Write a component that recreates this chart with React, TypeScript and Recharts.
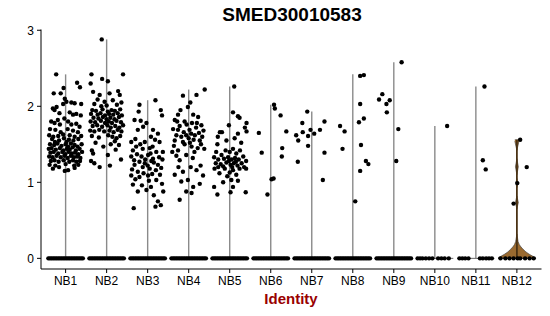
import {
  ComposedChart,
  Scatter,
  Area,
  XAxis,
  YAxis,
  ReferenceLine,
} from "recharts";

const GROUPS = ["NB1", "NB2", "NB3", "NB4", "NB5", "NB6", "NB7", "NB8", "NB9", "NB10", "NB11", "NB12"];
const Y_TICKS = [0, 1, 2, 3];

// top of each (collapsed) violin = max expression per identity
const VIOLIN_MAX = [2.42, 2.88, 2.08, 2.22, 2.26, 2.02, 1.93, 2.42, 2.58, 1.74, 2.26, 1.56];

// jittered non-zero cells: [x offset from group centre, expression]
const NB1_POINTS = [
  [-0.23, 2.42], [-0.05, 2.24], [0.28, 2.31], [0.35, 2.25], [-0.12, 2.17], [-0.29, 2.17],
  [-0.02, 2.1], [0.02, 2.06], [0.14, 2.05], [0.22, 2.04], [0.38, 2.03], [-0.06, 2.03], [-0.22, 1.99], [-0.31, 1.97],
  [-0.27, 1.95], [-0.15, 1.91], [0.1, 1.92], [0.18, 1.89], [0.37, 1.88], [0.26, 1.9],
  [-0.35, 1.8], [-0.27, 1.78], [-0.19, 1.82], [-0.14, 1.76], [-0.03, 1.84], [0.06, 1.8], [0.14, 1.76], [0.26, 1.77],
  [0.34, 1.73], [-0.38, 1.7], [-0.25, 1.69], [-0.12, 1.66], [0.05, 1.7], [0.18, 1.68], [0.3, 1.66], [-0.4, 1.62],
  [-0.3, 1.6], [-0.18, 1.61], [-0.06, 1.63], [0.1, 1.62], [0.22, 1.6], [0.38, 1.61],
  [-0.33, 1.57], [-0.16, 1.55], [-0.04, 1.58], [0.08, 1.56], [0.19, 1.55], [0.31, 1.57], [0.02, 1.53], [-0.26, 1.53],
  [-0.38, 1.5], [-0.28, 1.49], [-0.2, 1.51], [-0.1, 1.48], [0.0, 1.5], [0.06, 1.47], [0.13, 1.51], [0.22, 1.49], [0.29, 1.47], [0.39, 1.5],
  [-0.41, 1.44], [-0.34, 1.45], [-0.24, 1.43], [-0.14, 1.45], [-0.06, 1.42], [0.03, 1.44], [0.1, 1.43], [0.17, 1.46], [0.25, 1.42], [0.34, 1.44],
  [-0.37, 1.39], [-0.29, 1.4], [-0.18, 1.38], [-0.08, 1.4], [-0.01, 1.37], [0.07, 1.4], [0.15, 1.38], [0.23, 1.39], [0.31, 1.37], [0.4, 1.4],
  [-0.4, 1.34], [-0.32, 1.33], [-0.22, 1.35], [-0.12, 1.33], [-0.03, 1.35], [0.05, 1.32], [0.13, 1.35], [0.2, 1.33], [0.28, 1.34], [0.36, 1.32],
  [-0.36, 1.28], [-0.27, 1.29], [-0.17, 1.27], [-0.05, 1.29], [0.09, 1.27], [0.18, 1.29], [0.26, 1.27], [0.35, 1.28],
  [-0.39, 1.23], [-0.25, 1.22], [0.0, 1.24], [0.21, 1.22], [0.31, 1.23],
  [-0.31, 1.18], [-0.02, 1.15], [0.06, 1.16], [0.22, 1.19], [-0.16, 1.2],
];

const NB2_POINTS = [
  [-0.12, 2.88], [-0.37, 2.42], [-0.11, 2.36], [0.4, 2.42], [0.03, 2.33], [-0.39, 2.3], [-0.33, 2.19], [0.28, 2.2],
  [0.32, 2.15], [-0.17, 2.15], [0.07, 2.17],
  [-0.22, 2.09], [-0.05, 2.06], [0.15, 2.08], [-0.3, 2.03], [0.0, 2.01], [0.25, 2.02], [0.36, 2.05], [-0.13, 2.0],
  [-0.35, 1.95], [-0.26, 1.94], [-0.1, 1.96], [0.03, 1.93], [0.12, 1.95], [0.2, 1.94], [0.33, 1.96],
  [-0.38, 1.9], [-0.22, 1.89], [-0.15, 1.91], [-0.04, 1.88], [0.06, 1.9], [0.16, 1.89], [0.27, 1.91], [0.37, 1.88],
  [-0.32, 1.85], [-0.2, 1.84], [-0.09, 1.86], [0.0, 1.83], [0.09, 1.85], [0.19, 1.83], [0.3, 1.86],
  [-0.39, 1.8], [-0.28, 1.79], [-0.14, 1.81], [-0.04, 1.78], [0.05, 1.8], [0.13, 1.78], [0.24, 1.81], [0.35, 1.79],
  [-0.34, 1.74], [-0.23, 1.75], [-0.11, 1.73], [0.02, 1.75], [0.1, 1.72], [0.21, 1.74], [0.31, 1.72], [0.4, 1.75],
  [-0.4, 1.68], [-0.3, 1.67], [-0.18, 1.69], [-0.06, 1.67], [0.07, 1.68], [0.17, 1.66], [0.27, 1.69], [0.36, 1.67],
  [-0.36, 1.61], [-0.19, 1.59], [0.04, 1.62], [0.14, 1.6], [0.24, 1.58], [0.33, 1.61],
  [-0.27, 1.52], [0.1, 1.5], [0.2, 1.54], [0.3, 1.49], [-0.08, 1.47],
  [-0.36, 1.42], [0.22, 1.43], [-0.38, 1.28], [0.03, 1.36], [-0.3, 1.25], [-0.17, 1.2], [0.08, 1.22], [0.35, 1.3], [-0.33, 1.38],
];

const NB3_POINTS = [
  [0.19, 2.08], [-0.2, 2.02], [-0.22, 1.93], [0.32, 1.95], [0.35, 1.88], [-0.32, 1.82], [-0.17, 1.81], [-0.11, 1.73],
  [-0.24, 1.69], [0.13, 1.69], [0.25, 1.64], [-0.03, 1.78], [0.08, 1.6],
  [-0.4, 1.53], [-0.07, 1.53], [0.29, 1.53], [-0.3, 1.57], [0.18, 1.56], [-0.18, 1.5],
  [-0.28, 1.47], [0.05, 1.45], [0.21, 1.4], [0.37, 1.4], [-0.12, 1.44], [-0.36, 1.42], [0.12, 1.47],
  [-0.4, 1.34], [-0.15, 1.34], [0.01, 1.36], [0.13, 1.31], [-0.26, 1.37], [0.28, 1.33], [-0.06, 1.3], [0.07, 1.38], [0.36, 1.3], [-0.33, 1.29],
  [-0.32, 1.23], [-0.07, 1.25], [0.05, 1.18], [0.25, 1.23], [-0.2, 1.27], [0.15, 1.26], [0.0, 1.22], [-0.12, 1.2],
  [0.33, 1.19], [-0.38, 1.17], [0.09, 1.28], [0.2, 1.16], [-0.24, 1.14],
  [-0.4, 1.09], [-0.2, 1.07], [0.01, 1.09], [0.21, 1.03], [-0.1, 1.12], [0.11, 1.11], [-0.3, 1.04], [0.3, 1.1], [0.03, 1.02],
  [0.35, 0.98], [-0.24, 0.88], [-0.03, 0.9], [0.15, 0.83], [0.25, 0.75], [-0.34, 0.66], [0.32, 0.7], [0.19, 0.68],
  [-0.14, 0.96], [0.08, 0.94], [-0.36, 0.97], [0.38, 0.88],
];

const NB4_POINTS = [
  [0.39, 2.22], [-0.14, 2.14], [0.19, 2.15], [-0.26, 1.89], [-0.02, 1.99], [0.11, 1.89], [-0.34, 1.82], [-0.1, 1.8],
  [0.23, 1.86], [0.31, 1.75], [0.04, 2.05], [-0.2, 1.95],
  [-0.26, 1.69], [0.02, 1.69], [0.15, 1.62], [-0.34, 1.55], [-0.14, 1.53], [0.27, 1.55], [-0.05, 1.76], [0.08, 1.78],
  [-0.22, 1.74], [0.18, 1.72], [0.36, 1.68], [-0.38, 1.7], [-0.12, 1.66], [0.06, 1.64], [0.25, 1.65], [-0.3, 1.62],
  [0.0, 1.58], [0.12, 1.56], [-0.18, 1.6], [0.33, 1.6], [-0.06, 1.62], [0.2, 1.78], [-0.28, 1.8],
  [-0.26, 1.42], [0.07, 1.47], [-0.06, 1.36], [-0.22, 1.29], [0.22, 1.45], [-0.36, 1.48], [0.14, 1.4], [0.3, 1.5],
  [-0.1, 1.5], [0.03, 1.52], [-0.4, 1.4], [0.38, 1.44], [0.1, 1.32], [-0.3, 1.35],
  [-0.14, 1.14], [0.19, 1.16], [0.35, 1.09], [-0.02, 1.03], [0.11, 0.94], [-0.18, 1.01], [0.27, 0.98], [0.07, 0.86],
  [-0.22, 0.77], [-0.06, 0.88], [-0.34, 1.1], [0.29, 1.22], [-0.25, 1.2], [0.05, 1.2],
];

const NB5_POINTS = [
  [0.11, 2.26], [0.08, 1.92], [0.2, 1.87], [0.24, 1.85], [-0.19, 1.66], [0.2, 1.64], [0.37, 1.72], [0.12, 1.58],
  [-0.08, 1.55], [-0.24, 1.66], [-0.29, 1.6], [0.41, 1.78], [0.41, 1.67], [-0.3, 1.5], [0.28, 1.52], [-0.02, 1.75],
  [-0.33, 1.4], [-0.2, 1.36], [0.0, 1.4], [0.16, 1.38], [0.33, 1.34], [-0.1, 1.42], [0.08, 1.44], [0.25, 1.42],
  [-0.38, 1.33], [-0.28, 1.3], [-0.14, 1.31], [-0.04, 1.33], [0.05, 1.3], [0.13, 1.32], [0.22, 1.3], [0.4, 1.28],
  [-0.34, 1.25], [-0.22, 1.24], [-0.08, 1.26], [0.02, 1.23], [0.1, 1.25], [0.19, 1.22], [0.29, 1.25], [-0.16, 1.21],
  [0.06, 1.2], [-0.28, 1.2], [0.35, 1.2], [-0.02, 1.28], [0.15, 1.27],
  [-0.37, 1.18], [-0.12, 1.18], [0.08, 1.16], [0.24, 1.18], [0.4, 1.18], [-0.25, 1.12], [0.0, 1.13], [0.16, 1.1], [-0.06, 1.08],
  [-0.38, 0.94], [0.04, 1.03], [0.08, 0.94], [0.39, 0.87], [0.02, 0.87], [-0.3, 0.84], [0.2, 1.02], [-0.16, 1.0],
];

const NB6_POINTS = [
  [-0.29, 1.65], [-0.22, 1.39], [-0.08, 0.84], [0.02, 1.04], [0.07, 1.05], [0.08, 2.02], [0.1, 1.97],
  [0.24, 1.88], [0.28, 1.45], [0.27, 1.34], [0.38, 1.67],
];

const NB7_POINTS = [
  [-0.38, 1.62], [-0.33, 1.55], [-0.34, 1.27], [-0.23, 1.78], [-0.22, 1.66], [-0.11, 1.93], [-0.09, 1.61],
  [-0.09, 1.48], [-0.03, 1.69], [0.06, 1.64], [0.2, 1.69], [0.31, 1.8], [0.31, 1.39], [0.27, 1.03],
];

const NB8_POINTS = [
  [-0.31, 1.74], [-0.2, 1.67], [-0.25, 1.44], [0.06, 0.75], [0.18, 1.15], [0.15, 1.79], [0.18, 2.03],
  [0.18, 2.4], [0.27, 2.41], [0.27, 1.84], [0.2, 1.49], [0.32, 1.28], [0.38, 1.24],
];

const NB9_POINTS = [
  [0.19, 2.58], [0.11, 1.7], [0.06, 1.28], [-0.36, 2.09], [-0.28, 2.16], [-0.18, 2.03], [-0.1, 2.08], [-0.17, 1.92],
];

const NB10_POINTS = [[0.3, 1.74]];
const NB11_POINTS = [[0.21, 2.26], [0.17, 1.29], [0.24, 1.17]];
const NB12_POINTS = [[0.08, 1.56], [0.24, 1.2], [0.01, 0.99], [-0.08, 0.72]];

// cells at zero expression (x offsets)
const ZERO_DENSE = [
  -0.42, -0.38, -0.34, -0.3, -0.26, -0.22, -0.18, -0.14, -0.1, -0.06, -0.02,
  0.02, 0.06, 0.1, 0.14, 0.18, 0.22, 0.26, 0.3, 0.34, 0.38, 0.42,
];
const ZERO_NB10 = [-0.42, -0.36, -0.3, -0.22, -0.14, -0.06, 0.08, 0.16, 0.24, 0.34];
const ZERO_NB11 = [-0.4, -0.33, -0.26, -0.18, 0.1, 0.17, 0.25, 0.32, 0.39];
const ZERO_NB12 = [-0.4, -0.28, -0.18, -0.08, 0.02, 0.08, 0.2, 0.31, 0.41];

// NB12 violin outline: base (x offset, density top) and small bulges on the stem
const NB12_BASE = [
  [-0.46, 0.005], [-0.38, 0.03], [-0.3, 0.055], [-0.22, 0.085], [-0.15, 0.12], [-0.1, 0.15], [-0.06, 0.18],
  [-0.03, 0.22], [-0.012, 0.28], [0, 0.32], [0.012, 0.28], [0.03, 0.22], [0.06, 0.18], [0.1, 0.15],
  [0.15, 0.12], [0.22, 0.085], [0.3, 0.055], [0.38, 0.03], [0.46, 0.005],
];
// [low, high, half width]
const NB12_BULGES = [
  [1.1, 1.31, 0.035],
  [0.93, 1.05, 0.025],
  [0.65, 0.82, 0.035],
];

const NON_ZERO = [
  NB1_POINTS, NB2_POINTS, NB3_POINTS, NB4_POINTS, NB5_POINTS, NB6_POINTS,
  NB7_POINTS, NB8_POINTS, NB9_POINTS, NB10_POINTS, NB11_POINTS, NB12_POINTS,
];
const ZEROS = [
  ZERO_DENSE, ZERO_DENSE, ZERO_DENSE, ZERO_DENSE, ZERO_DENSE, ZERO_DENSE,
  ZERO_DENSE, ZERO_DENSE, ZERO_DENSE, ZERO_NB10, ZERO_NB11, ZERO_NB12,
];

const pointData = NON_ZERO.flatMap((pts, i) =>
  pts.map(([dx, y]) => ({ x: i + 1 + dx, y }))
).concat(
  ZEROS.flatMap((dxs, i) => dxs.map((dx) => ({ x: i + 1 + dx, y: 0 })))
);

const baseData = NB12_BASE.map(([dx, top]) => ({ x: 12 + dx, v: [0, top] }));
const bulgeData = NB12_BULGES.map(([lo, hi, w]) => {
  const mid = (lo + hi) / 2;
  return [
    { x: 12 - w, v: [mid, mid] },
    { x: 12, v: [lo, hi] },
    { x: 12 + w, v: [mid, mid] },
  ];
});
const topData = [
  { x: 11.95, v: [1.54, 1.56] },
  { x: 12, v: [1.42, 1.56] },
  { x: 12.05, v: [1.54, 1.56] },
];

const FONT = '"Liberation Sans", Arial, Helvetica, sans-serif';
const VIOLIN_FILL = "#9a6a30";

const Dot = (p: any) => <circle cx={p.cx} cy={p.cy} r={2.2} fill="#000" />;

export default function App() {
  return (
    <div style={{ position: "relative", width: 550, height: 316, background: "#fff" }}>
      <style>{"body{margin:0}"}</style>
      <ComposedChart
        width={550}
        height={316}
        margin={{ top: 29.5, right: 8.5, bottom: 0, left: 8 }}
      >
        <XAxis
          type="number"
          dataKey="x"
          domain={[0.4, 12.6]}
          ticks={[1, 2, 3, 4, 5, 6, 7, 8, 9, 10, 11, 12]}
          tickFormatter={(v: number) => GROUPS[v - 1]}
          allowDataOverflow
          height={47}
          tickSize={4}
          tickMargin={3}
          axisLine={{ stroke: "#000" }}
          tickLine={{ stroke: "#000" }}
          tick={{ fill: "#000", fontSize: 12, fontFamily: FONT }}
        />
        <YAxis
          type="number"
          dataKey="y"
          domain={[-0.14, 3.01]}
          ticks={Y_TICKS}
          allowDataOverflow
          width={33}
          tickSize={4}
          tickMargin={3}
          axisLine={{ stroke: "#000" }}
          tickLine={{ stroke: "#000" }}
          tick={{ fill: "#000", fontSize: 12, fontFamily: FONT }}
        />
        {VIOLIN_MAX.map((m, i) => (
          <ReferenceLine
            key={`v-${i}`}
            segment={[{ x: i + 1, y: 0 }, { x: i + 1, y: m }]}
            stroke={i === 11 ? "#4a3214" : "#8a8a8a"}
            strokeWidth={i === 11 ? 1.8 : 1.4}
            ifOverflow="visible"
          />
        ))}
        {VIOLIN_MAX.map((_, i) => (
          <ReferenceLine
            key={`h-${i}`}
            segment={[{ x: i + 0.55, y: 0 }, { x: i + 1.45, y: 0 }]}
            stroke="#666"
            strokeWidth={1}
            ifOverflow="visible"
          />
        ))}
        <Area
          data={baseData}
          dataKey="v"
          type="linear"
          fill={VIOLIN_FILL}
          fillOpacity={1}
          stroke="#333"
          strokeWidth={0.6}
          isAnimationActive={false}
          dot={false}
          activeDot={false}
        />
        <Area
          data={topData}
          dataKey="v"
          type="linear"
          fill={VIOLIN_FILL}
          fillOpacity={1}
          stroke="#333"
          strokeWidth={0.6}
          isAnimationActive={false}
          dot={false}
          activeDot={false}
        />
        {bulgeData.map((d, i) => (
          <Area
            key={`b-${i}`}
            data={d}
            dataKey="v"
            type="linear"
            fill={VIOLIN_FILL}
            fillOpacity={1}
            stroke="#333"
            strokeWidth={0.6}
            isAnimationActive={false}
            dot={false}
            activeDot={false}
          />
        ))}
        <Scatter data={pointData} shape={Dot} isAnimationActive={false} />
      </ComposedChart>
      <svg
        width={550}
        height={316}
        style={{ position: "absolute", left: 0, top: 0, pointerEvents: "none" }}
      >
        <text x={292} y={21} textAnchor="middle" fontFamily={FONT} fontWeight="bold" fontSize={19} fill="#000">
          SMED30010583
        </text>
        <text x={291} y={304} textAnchor="middle" fontFamily={FONT} fontWeight="bold" fontSize={15} fill="#990000">
          Identity
        </text>
      </svg>
    </div>
  );
}
